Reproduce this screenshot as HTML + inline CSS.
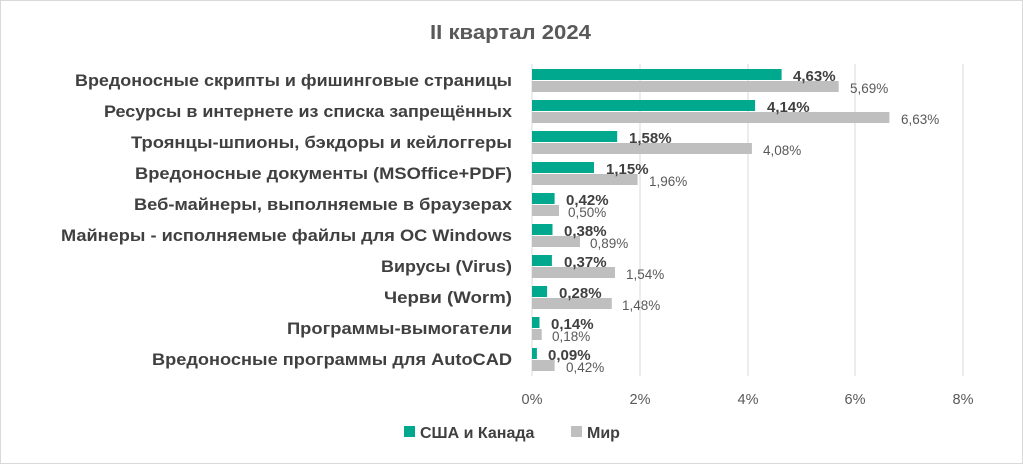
<!DOCTYPE html>
<html><head><meta charset="utf-8"><style>
body{margin:0;background:#fff}
svg{display:block}
text{font-family:"Liberation Sans",sans-serif}
</style></head><body>
<svg width="1023" height="464" xmlns="http://www.w3.org/2000/svg">
<rect x="0.5" y="0.5" width="1022" height="463" fill="#fff" stroke="#d9d9d9"/>
<text x="430" y="39" textLength="161" lengthAdjust="spacingAndGlyphs" font-size="20" font-weight="bold" fill="#595959">II квартал 2024</text>
<g stroke="#d9d9d9" stroke-width="1">
<line x1="532" y1="64" x2="532" y2="376"/>
<line x1="640" y1="64" x2="640" y2="376"/>
<line x1="748" y1="64" x2="748" y2="376"/>
<line x1="855" y1="64" x2="855" y2="376"/>
<line x1="963" y1="64" x2="963" y2="376"/>
</g>
<g font-size="14.5" fill="#595959" text-anchor="middle">
<text x="532" y="404">0%</text><text x="640" y="404">2%</text><text x="748" y="404">4%</text><text x="855" y="404">6%</text><text x="963" y="404">8%</text>
</g>
<g font-size="16.5" font-weight="bold" fill="#404040" lengthAdjust="spacingAndGlyphs">
<text x="75" y="86" textLength="437" lengthAdjust="spacingAndGlyphs">Вредоносные скрипты и фишинговые страницы</text>
<text x="104" y="117" textLength="408" lengthAdjust="spacingAndGlyphs">Ресурсы в интернете из списка запрещённых</text>
<text x="131" y="148" textLength="381" lengthAdjust="spacingAndGlyphs">Троянцы-шпионы, бэкдоры и кейлоггеры</text>
<text x="135" y="179" textLength="377" lengthAdjust="spacingAndGlyphs">Вредоносные документы (MSOffice+PDF)</text>
<text x="134" y="210" textLength="378" lengthAdjust="spacingAndGlyphs">Веб-майнеры, выполняемые в браузерах</text>
<text x="61" y="241" textLength="451" lengthAdjust="spacingAndGlyphs">Майнеры - исполняемые файлы для ОС Windows</text>
<text x="381" y="272" textLength="131" lengthAdjust="spacingAndGlyphs">Вирусы (Virus)</text>
<text x="384" y="303" textLength="128" lengthAdjust="spacingAndGlyphs">Черви (Worm)</text>
<text x="287" y="334" textLength="225" lengthAdjust="spacingAndGlyphs">Программы-вымогатели</text>
<text x="152" y="365" textLength="360" lengthAdjust="spacingAndGlyphs">Вредоносные программы для AutoCAD</text>
</g>
<g fill="#00a88e">
<rect x="532" y="69" width="249.6" height="11"/>
<rect x="532" y="100" width="223.1" height="11"/>
<rect x="532" y="131" width="85.2" height="11"/>
<rect x="532" y="162" width="62" height="11"/>
<rect x="532" y="193" width="22.6" height="11"/>
<rect x="532" y="224" width="20.5" height="11"/>
<rect x="532" y="255" width="19.9" height="11"/>
<rect x="532" y="286" width="15.1" height="11"/>
<rect x="532" y="317" width="7.5" height="11"/>
<rect x="532" y="348" width="4.9" height="11"/>
</g>
<g fill="#bfbfbf">
<rect x="532" y="81" width="306.7" height="11"/>
<rect x="532" y="112" width="357.4" height="11"/>
<rect x="532" y="143" width="219.9" height="11"/>
<rect x="532" y="174" width="105.6" height="11"/>
<rect x="532" y="205" width="27" height="11"/>
<rect x="532" y="236" width="48" height="11"/>
<rect x="532" y="267" width="83" height="11"/>
<rect x="532" y="298" width="79.8" height="11"/>
<rect x="532" y="329" width="9.7" height="11"/>
<rect x="532" y="360" width="22.6" height="11"/>
</g>
<g font-size="15" font-weight="bold" fill="#404040">
<text x="793" y="81">4,63%</text>
<text x="767" y="112">4,14%</text>
<text x="629" y="143">1,58%</text>
<text x="606" y="174">1,15%</text>
<text x="566" y="205">0,42%</text>
<text x="564" y="236">0,38%</text>
<text x="564" y="267">0,37%</text>
<text x="559" y="298">0,28%</text>
<text x="551" y="329">0,14%</text>
<text x="548" y="360">0,09%</text>
</g>
<g font-size="13.5" fill="#595959">
<text x="850" y="93">5,69%</text>
<text x="901" y="124">6,63%</text>
<text x="763" y="155">4,08%</text>
<text x="649" y="186">1,96%</text>
<text x="568" y="217">0,50%</text>
<text x="590" y="248">0,89%</text>
<text x="626" y="279">1,54%</text>
<text x="622" y="310">1,48%</text>
<text x="552" y="341">0,18%</text>
<text x="566" y="372">0,42%</text>
</g>
<rect x="404" y="426" width="11" height="11" fill="#00a88e"/>
<text x="420" y="438" font-size="16" font-weight="bold" fill="#404040">США и Канада</text>
<rect x="571" y="426" width="11" height="11" fill="#bfbfbf"/>
<text x="587" y="438" font-size="16" font-weight="bold" fill="#404040">Мир</text>
</svg>
</body></html>
